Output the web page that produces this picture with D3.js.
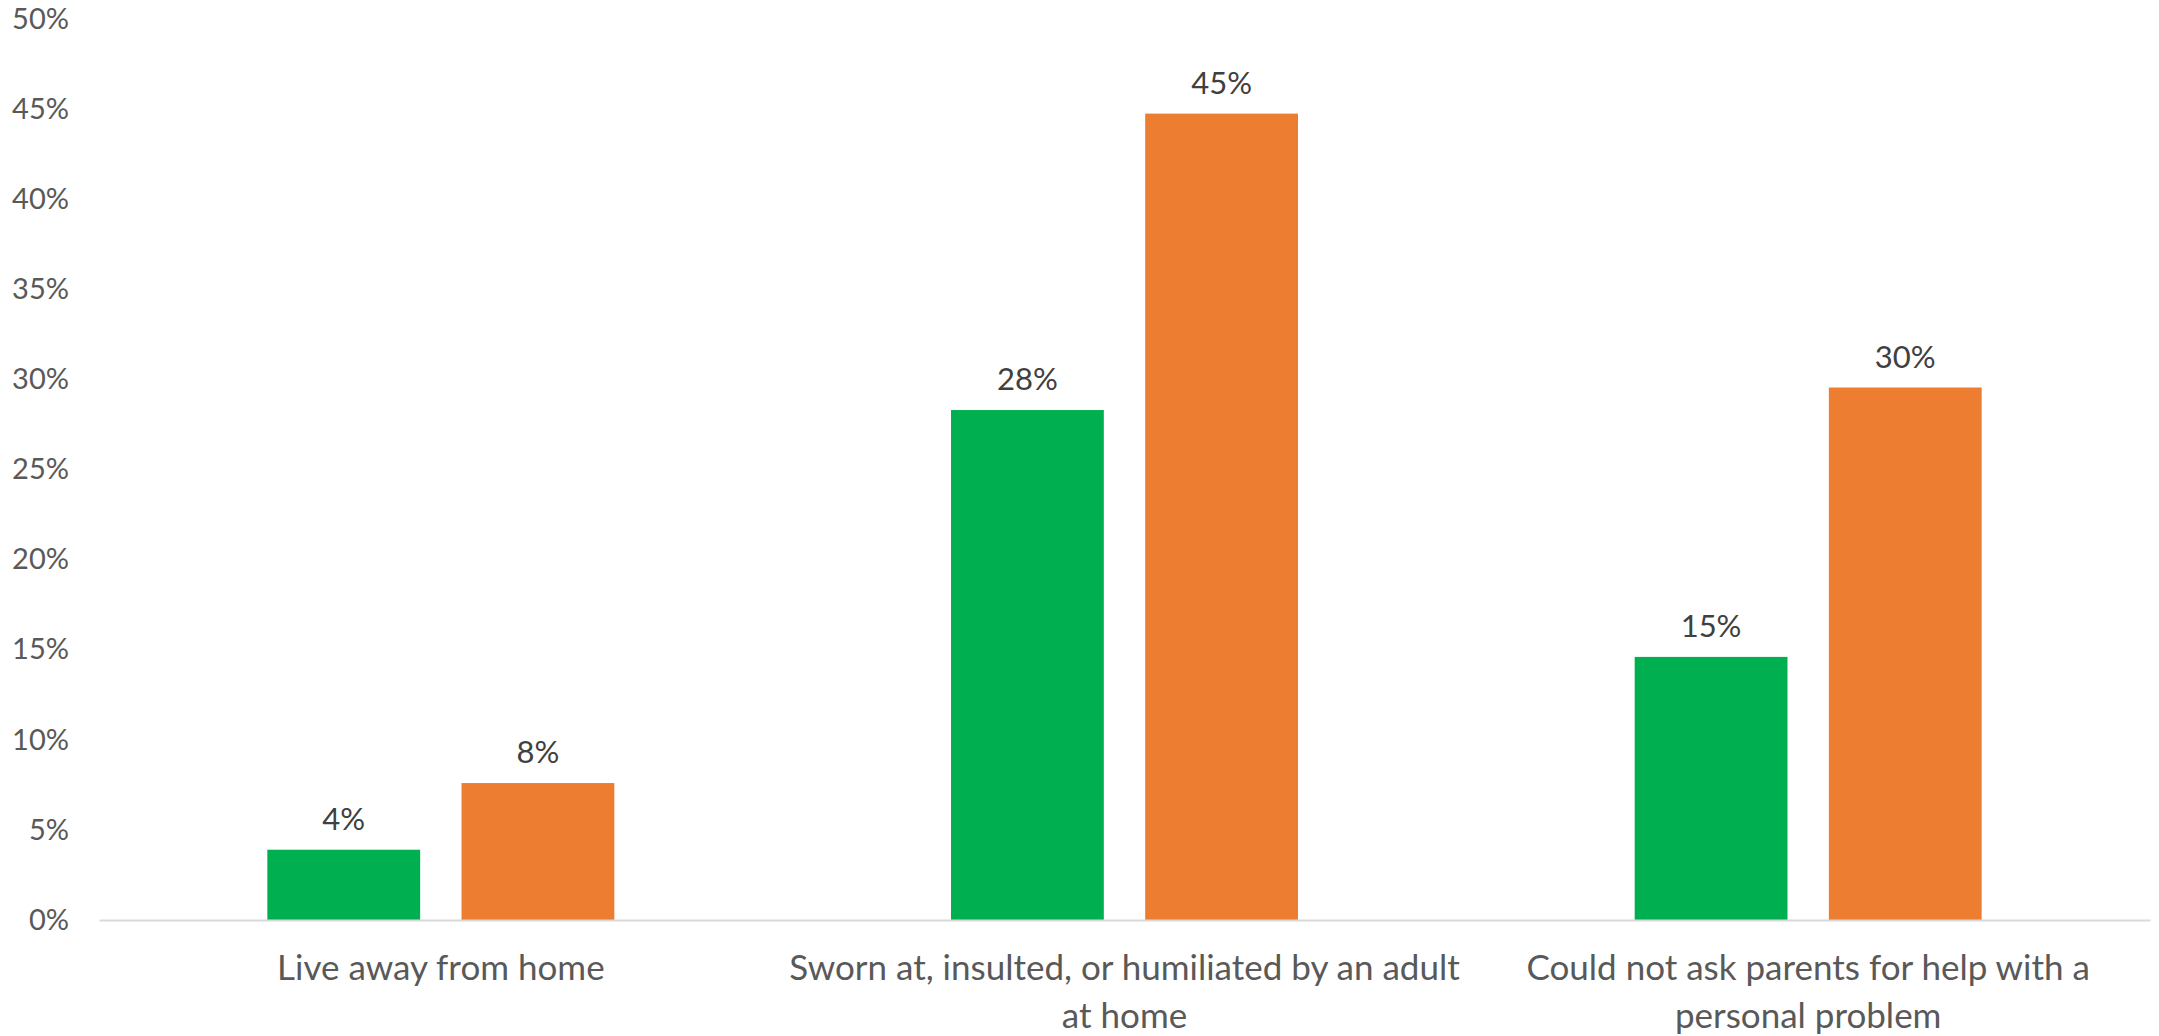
<!DOCTYPE html>
<html>
<head>
<meta charset="utf-8">
<script src="https://cdn.jsdelivr.net/npm/d3@7"></script>
<style>
  html, body { margin: 0; padding: 0; background: #fff; }
  svg { display: block; font-family: Lato, "Open Sans", sans-serif; }
</style>
</head>
<body>
<div id="chart"></div>
<script>
// data
var categories = ["home", "sworn", "parents"];
var categoryLines = [
	["Live away from home"],
	["Sworn at, insulted, or humiliated by an adult", "at home"],
	["Could not ask parents for help with a", "personal problem"]
];
var seriesNames = ["group1", "group2"];
var seriesColors = ["#00B050", "#ED7D31"];
var group1Values = [0.039, 0.283, 0.146];
var group2Values = [0.076, 0.4475, 0.2955];
var yTicks = [0, 0.05, 0.1, 0.15, 0.2, 0.25, 0.3, 0.35, 0.4, 0.45, 0.5];

var w = 2159;
var h = 1036;

var svg = d3.select("#chart")
	.append("svg")
	.attr("width", w)
	.attr("height", h);

var x = d3.scaleBand()
	.domain(categories)
	.range([99, 2150]);

// gap width ~220%, overlap ~-27% like the excel chart
var xSub = d3.scaleBand()
	.domain(seriesNames)
	.range([0, x.bandwidth()])
	.paddingInner(0.213)
	.paddingOuter(0.867);

var y = d3.scaleLinear()
	.domain([0, 0.5])
	.range([920, 19]);

var pct = d3.format(".0%");

// y axis, labels only
var yAxis = svg.append("g")
	.attr("transform", "translate(99,0)")
	.call(d3.axisLeft(y).tickValues(yTicks).tickFormat(pct).tickSize(0).tickPadding(30));
yAxis.select(".domain").remove();
yAxis.selectAll("text")
	.attr("font-family", "Lato, sans-serif")
	.attr("font-size", "29px")
	.attr("fill", "#595959");

// bars
var rows = categories.map(function(c, i) {
	return { cat: c, values: [group1Values[i], group2Values[i]] };
});

var groups = svg.selectAll("g.cat")
	.data(rows)
	.enter()
	.append("g")
	.attr("class", "cat")
	.attr("transform", function(d) { return "translate(" + x(d.cat) + ",0)"; });

groups.selectAll("rect")
	.data(function(d) {
		return d.values.map(function(v, j) { return { s: seriesNames[j], v: v, j: j }; });
	})
	.enter()
	.append("rect")
	.attr("x", function(d) { return xSub(d.s); })
	.attr("y", function(d) { return y(d.v); })
	.attr("width", xSub.bandwidth())
	.attr("height", function(d) { return y(0) - y(d.v); })
	.attr("fill", function(d) { return seriesColors[d.j]; });

groups.selectAll("text.val")
	.data(function(d) {
		return d.values.map(function(v, j) { return { s: seriesNames[j], v: v }; });
	})
	.enter()
	.append("text")
	.attr("class", "val")
	.text(function(d) { return pct(d.v); })
	.attr("x", function(d) { return xSub(d.s) + xSub.bandwidth() / 2; })
	.attr("y", function(d) { return y(d.v) - 20; })
	.attr("text-anchor", "middle")
	.attr("font-size", "31px")
	.attr("fill", "#404040");

// x axis line
var xAxis = svg.append("g")
	.attr("transform", "translate(0," + y(0) + ")")
	.call(d3.axisBottom(x).tickSize(0).tickFormat(""));
xAxis.select(".domain")
	.attr("stroke", "#D9D9D9")
	.attr("stroke-width", 2);

// category labels, wrapped like the original
var catLabels = svg.selectAll("text.cat")
	.data(categories)
	.enter()
	.append("text")
	.attr("class", "cat")
	.attr("text-anchor", "middle")
	.attr("font-size", "35px")
	.attr("fill", "#595959");

catLabels.each(function(c, i) {
	var t = d3.select(this);
	categoryLines[i].forEach(function(line, k) {
		t.append("tspan")
			.attr("x", x(c) + x.bandwidth() / 2)
			.attr("y", 980 + k * 48)
			.text(line);
	});
});
</script>
</body>
</html>
